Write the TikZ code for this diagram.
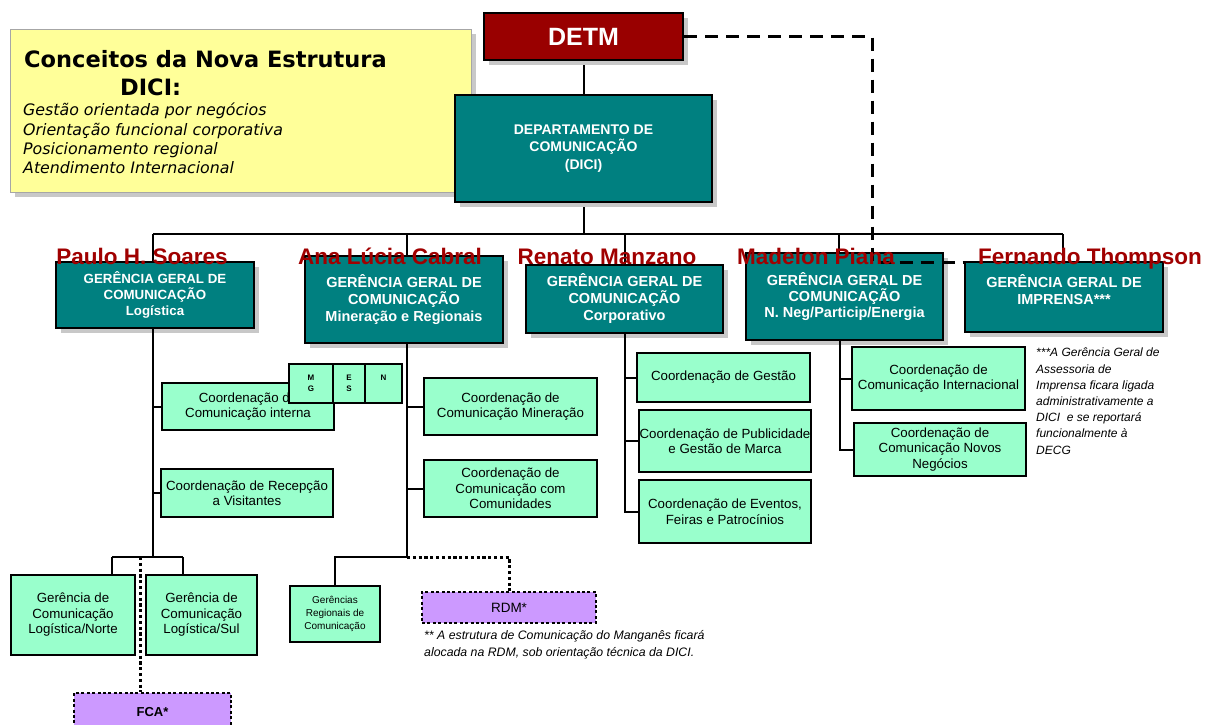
\documentclass[tikz,border=0pt]{standalone}
\usepackage{fontspec}
\setmainfont{Liberation Sans}
\newfontfamily\vfont{DejaVu Sans}
\usetikzlibrary{shadows}
\definecolor{tealc}{HTML}{008080}
\definecolor{redc}{HTML}{990000}
\definecolor{namec}{HTML}{A00000}
\definecolor{greenc}{HTML}{99FFCC}
\definecolor{purplec}{HTML}{CC99FF}
\definecolor{yellowc}{HTML}{FFFF99}
\definecolor{shadowc}{HTML}{C8C8C8}
\begin{document}
\begin{tikzpicture}[x=1pt,y=-1pt,
  shadowed/.style={general shadow={fill=shadowc, shadow xshift=5pt, shadow yshift=-5pt}},
  tbox/.style={draw=black, line width=2pt, fill=tealc, text=white, align=center, inner sep=0pt, shadowed},
  gbox/.style={draw=black, line width=2pt, fill=greenc, align=center, inner sep=0pt, font=\fontsize{13.3}{15.5}\selectfont},
  pbox/.style={draw=black, line width=2.6pt, dash pattern=on 3pt off 2.4pt, fill=purplec, align=center, inner sep=0pt},
  conn/.style={line width=2pt},
  dotc/.style={line width=3pt, dash pattern=on 3.2pt off 2.6pt},
  dashc/.style={line width=3pt, dash pattern=on 13pt off 8pt},
  nm/.style={text=namec, font=\fontsize{22.5}{24}\selectfont\bfseries, inner sep=0pt, anchor=base},
  tt/.style={text=white, align=center, inner sep=0pt},
  note/.style={font=\fontsize{12}{16.2}\selectfont\itshape, align=left, inner sep=0pt, anchor=north west},
  ltr/.style={font=\fontsize{8}{11}\selectfont\bfseries, inner sep=0pt, align=center}
]
\useasboundingbox (0,0) rectangle (1208,724);
\clip (0,0) rectangle (1208,724);

% ---------- helper coordinates ----------
\coordinate (bl) at (153,234);
\coordinate (br) at (1063,234);
\coordinate (b2) at (407,234);
\coordinate (b3) at (625,234);
\coordinate (b4) at (839,234);
\coordinate (p1) at (153,557);
\coordinate (pl) at (112,557);
\coordinate (pr) at (183,557);
\coordinate (pd) at (140,557);
\coordinate (a1) at (407,557);
\coordinate (r1) at (625,400);
\coordinate (m1) at (840,400);
\coordinate (d1) at (872,262);

% yellow concept box
\node[draw=black!35, line width=1pt, fill=yellowc, shadowed, minimum width=461pt, minimum height=163pt, inner sep=0pt] (yel) at (240.5,110.5) {};
\node[font=\vfont\fontsize{22.5}{24}\selectfont\bfseries, anchor=base west, inner sep=0pt] (yt1) at (24,67) {Conceitos da Nova Estrutura};
\node[font=\vfont\fontsize{22.5}{24}\selectfont\bfseries, anchor=base west, inner sep=0pt] (yt2) at (120,95) {DICI:};
\node[font=\vfont\fontsize{15.8}{19}\selectfont\itshape, anchor=base west, inner sep=0pt] (yl1) at (23,115) {Gestão orientada por negócios};
\node[font=\vfont\fontsize{15.8}{19}\selectfont\itshape, anchor=base west, inner sep=0pt] (yl2) at (23,135) {Orientação funcional corporativa};
\node[font=\vfont\fontsize{15.8}{19}\selectfont\itshape, anchor=base west, inner sep=0pt] (yl3) at (23,154) {Posicionamento regional};
\node[font=\vfont\fontsize{15.8}{19}\selectfont\itshape, anchor=base west, inner sep=0pt] (yl4) at (23,173) {Atendimento Internacional};

% ---------- connectors (solid) ----------
\draw[conn] (583.5,60) -- (583.5,95);
\draw[conn] (bl) -- (br);
\draw[conn] (583.5,202) -- (583.5,234);
\draw[conn] (bl) -- (153,262);
\draw[conn] (b2) -- (407,256);
\draw[conn] (b3) -- (625,265);
\draw[conn] (b4) -- (839,253);
\draw[conn] (br) -- (1063,262);

% ---------- top boxes ----------
\node[tbox, fill=redc, minimum width=199pt, minimum height=47pt, font=\fontsize{25}{28}\selectfont\bfseries] (detm) at (583.5,36.5) {DETM};
\node[tbox, minimum width=257pt, minimum height=107pt, font=\fontsize{14}{17.5}\selectfont\bfseries] (dici) at (583.5,148.5) {DEPARTAMENTO DE\\COMUNICAÇÃO\\(DICI)};

\node[tbox, minimum width=198pt, minimum height=66pt, font=\fontsize{13.3}{16}\selectfont\bfseries] (lg) at (155,295) {GERÊNCIA GERAL DE\\COMUNICAÇÃO\\Logística};
\node[tbox, minimum width=198pt, minimum height=87pt, font=\fontsize{14.5}{17}\selectfont\bfseries] (mr) at (404,299.5) {GERÊNCIA GERAL DE\\COMUNICAÇÃO\\Mineração e Regionais};
\node[tbox, minimum width=197pt, minimum height=68pt, font=\fontsize{14.5}{17}\selectfont\bfseries] (cp) at (624.5,299) {GERÊNCIA GERAL DE\\COMUNICAÇÃO\\Corporativo};
\node[tbox, minimum width=197pt, minimum height=87pt, font=\fontsize{14.5}{16}\selectfont\bfseries] (nn) at (844.5,296.5) {GERÊNCIA GERAL DE\\COMUNICAÇÃO\\N. Neg/Particip/Energia};
\node[tbox, minimum width=198pt, minimum height=70pt] (im) at (1064,297) {};
\node[tt, font=\fontsize{14.5}{17}\selectfont\bfseries] (imt) at (1064,290) {GERÊNCIA GERAL DE\\IMPRENSA***};

% ---------- Paulo subtree ----------
\draw[conn] (lg.south -| p1) -- (p1);
\draw[conn] (pl) -- (pr);
\draw[conn] (pl) -- (112,575);
\draw[conn] (pr) -- (183,575);
\node[gbox, minimum width=172pt, minimum height=47pt] (ci) at (248,406.5) {Coordenação de\\Comunicação interna};
\node[gbox, minimum width=172pt, minimum height=48pt] (rv) at (247,493) {Coordenação de Recepção\\a Visitantes};
\draw[conn] (ci.west -| p1) -- (ci.west);
\draw[conn] (rv.west -| p1) -- (rv.west);
\node[gbox, minimum width=44pt, minimum height=39pt] (mg) at (311,383.5) {};
\node[gbox, minimum width=32pt, minimum height=39pt] (es) at (349,383.5) {};
\node[gbox, minimum width=37pt, minimum height=39pt] (nb) at (383.5,383.5) {};
\node[ltr] at (311,383.5) {M\\G};
\node[ltr] at (349,383.5) {E\\S};
\node[ltr] at (383.5,378) {N};
\node[gbox, minimum width=124pt, minimum height=80pt] (ln) at (73,615) {Gerência de\\Comunicação\\Logística/Norte};
\node[gbox, minimum width=111pt, minimum height=80pt] (ls) at (201.5,615) {Gerência de\\Comunicação\\Logística/Sul};
\node[pbox, minimum width=157pt, minimum height=42pt] (fca) at (152.5,714) {};
\node[font=\fontsize{13}{15}\selectfont\bfseries, inner sep=0pt] (fcat) at (152.5,712) {FCA*};
\draw[dotc] (pd) -- (pd |- fca.north);

% ---------- Ana subtree ----------
\draw[conn] (mr.south -| a1) -- (a1);
\node[gbox, minimum width=173pt, minimum height=57pt] (cm) at (510.5,406.5) {Coordenação de\\Comunicação Mineração};
\node[gbox, minimum width=173pt, minimum height=57pt] (cc) at (510.5,488.5) {Coordenação de\\Comunicação com\\Comunidades};
\draw[conn] (cm.west -| a1) -- (cm.west);
\draw[conn] (cc.west -| a1) -- (cc.west);
\node[gbox, minimum width=90pt, minimum height=56pt, font=\fontsize{10}{13}\selectfont] (gr) at (335,614) {Gerências\\Regionais de\\Comunicação};
\draw[conn] (a1) -| (gr.north);
\node[pbox, minimum width=174pt, minimum height=31pt, font=\fontsize{13.5}{15}\selectfont] (rdm) at (509,607.5) {RDM*};
\draw[dotc] (a1) -| (rdm.north);
\node[note, font=\fontsize{12.3}{17}\selectfont\itshape] (n2) at (424,630) {** A estrutura de Comunicação do Manganês ficará\\alocada na RDM, sob orientação técnica da DICI.};

% ---------- Renato subtree ----------
\node[gbox, minimum width=173pt, minimum height=49pt] (gs) at (723.5,377.5) {Coordenação de Gestão};
\node[gbox, minimum width=172pt, minimum height=62pt] (pb) at (725,441) {Coordenação de Publicidade\\e Gestão de Marca};
\node[gbox, minimum width=172pt, minimum height=63pt] (ev) at (725,511.5) {Coordenação de Eventos,\\Feiras e Patrocínios};
\draw[conn] (cp.south -| r1) |- (ev.west);
\draw[conn] (gs.west -| r1) -- (gs.west);
\draw[conn] (pb.west -| r1) -- (pb.west);

% ---------- Madelon subtree ----------
\node[gbox, minimum width=173pt, minimum height=63pt] (in) at (938.5,378.5) {Coordenação de\\Comunicação Internacional};
\node[gbox, minimum width=172pt, minimum height=53pt] (nv) at (940,449.5) {Coordenação de\\Comunicação Novos\\Negócios};
\draw[conn] (nn.south -| m1) |- (nv.west);
\draw[conn] (in.west -| m1) -- (in.west);

% ---------- Fernando note ----------
\node[note] (n1) at (1036,348) {***A Gerência Geral de\\Assessoria de\\Imprensa ficara ligada\\administrativamente a\\DICI\ \ e se reportará\\funcionalmente à\\DECG};

% ---------- dashed DETM link ----------
\draw[dashc] (detm.east) -| (d1) -- (d1 -| im.west);

% ---------- names ----------
\node[nm] (nP) at (142,264) {Paulo H. Soares};
\node[nm] (nA) at (390,264) {Ana Lúcia Cabral};
\node[nm] (nR) at (607,264) {Renato Manzano};
\node[nm] (nM) at (816,264) {Madelon Piana};
\node[nm] (nF) at (1090,264) {Fernando Thompson};
\end{tikzpicture}
\end{document}
